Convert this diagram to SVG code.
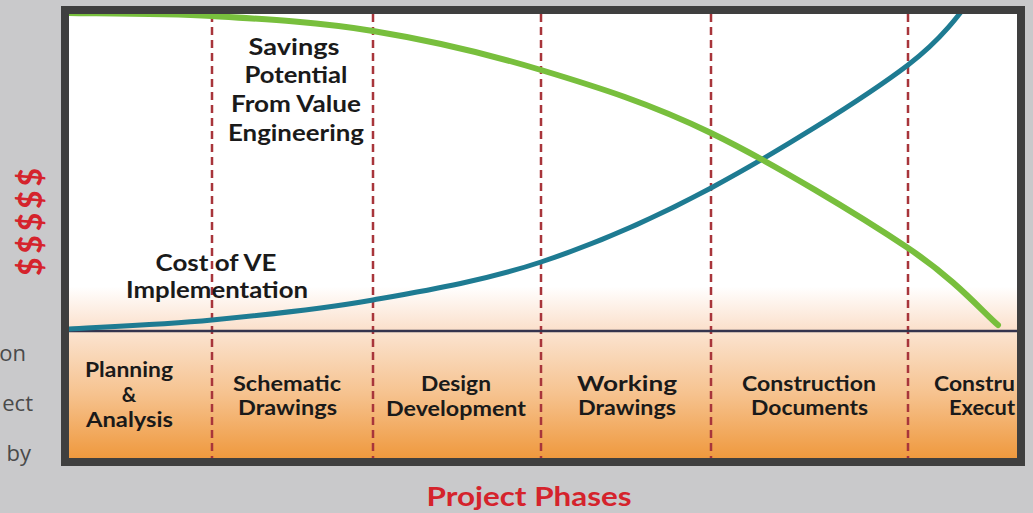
<svg xmlns="http://www.w3.org/2000/svg" width="1033" height="513" viewBox="0 0 1033 513">
<defs>
<linearGradient id="upperGrad" x1="0" y1="14" x2="0" y2="331" gradientUnits="userSpaceOnUse">
<stop offset="0" stop-color="#ffffff"/>
<stop offset="0.86" stop-color="#ffffff"/>
<stop offset="1" stop-color="#fbdfca"/>
</linearGradient>
<linearGradient id="lowerGrad" x1="0" y1="331" x2="0" y2="458" gradientUnits="userSpaceOnUse">
<stop offset="0" stop-color="#fbe4d1"/>
<stop offset="0.5" stop-color="#f6c28e"/>
<stop offset="1" stop-color="#ef993e"/>
</linearGradient>
<clipPath id="plotClip"><rect x="69" y="14" width="948" height="444"/></clipPath>
<style>
.lbl{font-family:Lato,"Open Sans","Liberation Sans",sans-serif;font-weight:700;fill:#1a1a1a;text-anchor:middle}
.big{font-size:22px}
.phase{font-size:20px}
.cut{text-anchor:start}
.red{font-family:Lato,"Open Sans","Liberation Sans",sans-serif;font-weight:700;fill:#d5232c}
.side{font-family:"Open Sans","Noto Sans","Liberation Sans",sans-serif;font-size:22px;fill:#4a4a4a;text-anchor:end}
.divider{stroke:#a8353b;stroke-width:2.5;stroke-dasharray:8 5;fill:none}
.curve{fill:none;stroke-linecap:round}
</style>
</defs>
<rect x="0" y="0" width="1033" height="513" fill="#c9c9cb"/>
<g id="side-text">
<text class="side" x="26" y="361">on</text>
<text class="side" x="33" y="411">ect</text>
<text class="side" x="31" y="461">by</text>
</g>
<g id="frame">
<rect x="61" y="6" width="964" height="460" fill="#3f3f3f"/>
<rect x="69" y="14" width="948" height="317" fill="url(#upperGrad)"/>
<rect x="69" y="331" width="948" height="127" fill="url(#lowerGrad)"/>
</g>
<g id="dividers" clip-path="url(#plotClip)">
<line class="divider" x1="212" y1="14" x2="212" y2="458"/>
<line class="divider" x1="373" y1="14" x2="373" y2="458"/>
<line class="divider" x1="541" y1="14" x2="541" y2="458"/>
<line class="divider" x1="711" y1="14" x2="711" y2="458"/>
<line class="divider" x1="908" y1="14" x2="908" y2="458"/>
</g>
<g id="axis">
<line x1="69" y1="331" x2="1017" y2="331" stroke="#34344e" stroke-width="2.5"/>
</g>
<g id="connectors" clip-path="url(#plotClip)">
<path id="cost-curve" class="curve" stroke="#1e7b92" stroke-width="5" d="M69,329 C92.8,327.5 161.3,324.8 212,320 C262.7,315.2 318.2,309.7 373,300 C427.8,290.3 484.7,280.7 541,262 C597.3,243.3 649.8,220.8 711,188 C772.2,155.2 862.3,99.7 908,65 C953.7,30.3 972.2,-5.8 985,-20"/>
<path id="savings-curve" class="curve" stroke="#78bf3d" stroke-width="6" d="M60,12.8 L69,13 C92.8,13.5 161.3,13 212,16 C262.7,19 318.2,22 373,31 C427.8,40 484.7,53 541,70 C597.3,87 649.8,103.3 711,133 C772.2,162.7 860.2,216 908,248 C955.8,280 983,312.2 998,325"/>
</g>
<g id="savings-label">
<text class="lbl big" x="294" y="55" textLength="91" lengthAdjust="spacingAndGlyphs">Savings</text>
<text class="lbl big" x="296" y="83" textLength="103" lengthAdjust="spacingAndGlyphs">Potential</text>
<text class="lbl big" x="296" y="112" textLength="130" lengthAdjust="spacingAndGlyphs">From Value</text>
<text class="lbl big" x="296" y="141" textLength="136" lengthAdjust="spacingAndGlyphs">Engineering</text>
</g>
<g id="cost-label">
<text class="lbl big" x="216" y="271" textLength="121" lengthAdjust="spacingAndGlyphs">Cost of VE</text>
<text class="lbl big" x="217" y="298" textLength="182" lengthAdjust="spacingAndGlyphs">Implementation</text>
</g>
<g id="phase-planning">
<text class="lbl phase" x="129" y="377" textLength="88" lengthAdjust="spacingAndGlyphs">Planning</text>
<text class="lbl phase" x="129" y="402">&amp;</text>
<text class="lbl phase" x="129.5" y="427" textLength="87" lengthAdjust="spacingAndGlyphs">Analysis</text>
</g>
<g id="phase-schematic">
<text class="lbl phase" x="287" y="391" textLength="108" lengthAdjust="spacingAndGlyphs">Schematic</text>
<text class="lbl phase" x="287.5" y="415" textLength="99" lengthAdjust="spacingAndGlyphs">Drawings</text>
</g>
<g id="phase-design">
<text class="lbl phase" x="456" y="391" textLength="70" lengthAdjust="spacingAndGlyphs">Design</text>
<text class="lbl phase" x="456" y="416" textLength="140" lengthAdjust="spacingAndGlyphs">Development</text>
</g>
<g id="phase-working">
<text class="lbl phase" x="627" y="391" textLength="100" lengthAdjust="spacingAndGlyphs">Working</text>
<text class="lbl phase" x="627" y="415" textLength="98" lengthAdjust="spacingAndGlyphs">Drawings</text>
</g>
<g id="phase-construction-docs">
<text class="lbl phase" x="809" y="391" textLength="134" lengthAdjust="spacingAndGlyphs">Construction</text>
<text class="lbl phase" x="809.5" y="415" textLength="117" lengthAdjust="spacingAndGlyphs">Documents</text>
</g>
<g id="phase-construction-exec">
<text class="lbl phase cut" x="934" y="391" textLength="81" lengthAdjust="spacingAndGlyphs">Constru</text>
<text class="lbl phase cut" x="949" y="415" textLength="66" lengthAdjust="spacingAndGlyphs">Execut</text>
</g>
<g id="axis-titles">
<text class="red" x="529" y="506" font-size="26" text-anchor="middle" textLength="205" lengthAdjust="spacingAndGlyphs">Project Phases</text>
<text class="red" x="0" y="0" font-size="32" text-anchor="middle" transform="translate(42,222) rotate(-90)" textLength="108" lengthAdjust="spacing">$$$$$</text>
</g>
</svg>
